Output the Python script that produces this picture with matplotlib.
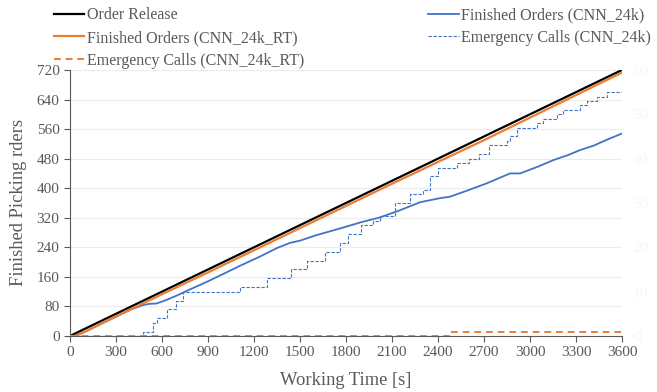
import matplotlib.pyplot as plt

# Reference data
release_t = [0, 3600]
release_v = [0, 720]

rt_t = [0, 40, 300, 600, 900, 1200, 1500, 1800, 2100, 2400, 2700, 3000, 3300, 3600]
rt_v = [0, 0, 53, 113, 172, 232, 292, 352, 412, 471, 530, 591, 652, 713]

cnn_t = [0, 30, 100, 200, 300, 400, 478, 520, 565, 620, 700, 761, 900, 1000, 1109,
         1239, 1350, 1435, 1500, 1600, 1761, 1900, 2022, 2150, 2283, 2413, 2478,
         2600, 2717, 2870, 2935, 3050, 3152, 3250, 3326, 3420, 3500, 3600]
cnn_v = [0, 0, 12, 32, 52, 72, 84, 87, 88, 96, 110, 122, 148, 168, 190,
         215, 238, 252, 258, 272, 291, 308, 321, 340, 362, 373, 377,
         395, 413, 440, 440, 458, 476, 490, 503, 516, 531, 548]

calls_t = [0, 474, 540, 570, 635, 690, 740, 1109, 1283, 1440, 1543, 1663, 1761, 1810,
           1900, 1978, 2022, 2120, 2220, 2300, 2350, 2400, 2522, 2600, 2667, 2732,
           2848, 2870, 2913, 3043, 3087, 3174, 3217, 3326, 3370, 3435, 3500, 3600]
calls_v = [0, 1, 3, 4, 6, 8, 10, 11, 13, 15, 17, 19, 21, 23,
           25, 26, 27, 30, 32, 33, 36, 38, 39, 40, 41, 43,
           44, 45, 47, 48, 49, 50, 51, 52, 53, 54, 55, 55]

calls_rt_t = [0, 2480, 3600]
calls_rt_v = [0, 1, 1]

x_ticks = list(range(0, 3601, 300))
y_ticks = list(range(0, 721, 80))
y2_ticks = list(range(0, 61, 10))

plt.rcParams['font.family'] = ['Liberation Serif', 'DejaVu Serif']
grey = '#595959'

fig = plt.figure(figsize=(6.57, 3.92), dpi=100)
ax = fig.add_axes([0.1065, 0.1429, 0.8402, 0.6786])
ax2 = ax.twinx()

l1, = ax.plot(release_t, release_v, color='black', lw=1.6, label='Order Release')
l2, = ax.plot(cnn_t, cnn_v, color='#4472C4', lw=1.3, label='Finished Orders (CNN_24k)')
l3, = ax.plot(rt_t, rt_v, color='#ED7D31', lw=1.6, label='Finished Orders (CNN_24k_RT)')
l4, = ax2.step(calls_t, calls_v, where='post', color='#4472C4', lw=0.8,
               linestyle=(0, (3, 1.5)), label='Emergency Calls (CNN_24k)')
l5, = ax2.step(calls_rt_t, calls_rt_v, where='post', color='#ED7D31', lw=1.4,
               linestyle=(0, (3.5, 2.5)), label='Emergency Calls (CNN_24k_RT)')
ax.set_zorder(ax2.get_zorder() - 1)
ax2.patch.set_visible(False)

ax.set_xlim(0, 3600)
ax.set_ylim(0, 720)
ax2.set_ylim(0, 60)
ax.set_xticks(x_ticks)
ax.set_yticks(y_ticks)
ax2.set_yticks(y2_ticks)
ax.grid(True, axis='y', color='#ececec', lw=0.8)
ax.set_axisbelow(True)

for a in (ax, ax2):
    for s in ('top', 'right'):
        a.spines[s].set_visible(False)
ax2.spines['left'].set_visible(False)
ax2.spines['bottom'].set_visible(False)
ax.spines['left'].set_color(grey)
ax.spines['bottom'].set_color(grey)
ax.tick_params(colors=grey, labelsize=11, length=4, width=0.8, labelcolor=grey)
ax2.tick_params(axis='y', length=0, labelsize=11, labelcolor='#f6f6f6', pad=8)

ax.set_xlabel('Working Time [s]', fontsize=13.3, color=grey, labelpad=9)
ax.set_ylabel('Finished Picking rders', fontsize=13.3, color=grey, labelpad=7)

handles = [l1, l3, l5, l2, l4]
fig.legend(handles=handles, labels=[h.get_label() for h in handles], ncol=2,
           loc='upper left', bbox_to_anchor=(0.06, 1.018), frameon=False,
           fontsize=11.5, handlelength=1.9, handletextpad=0.15,
           labelspacing=0.42, columnspacing=7.8, labelcolor=grey)

fig.savefig('out.png', dpi=100)
